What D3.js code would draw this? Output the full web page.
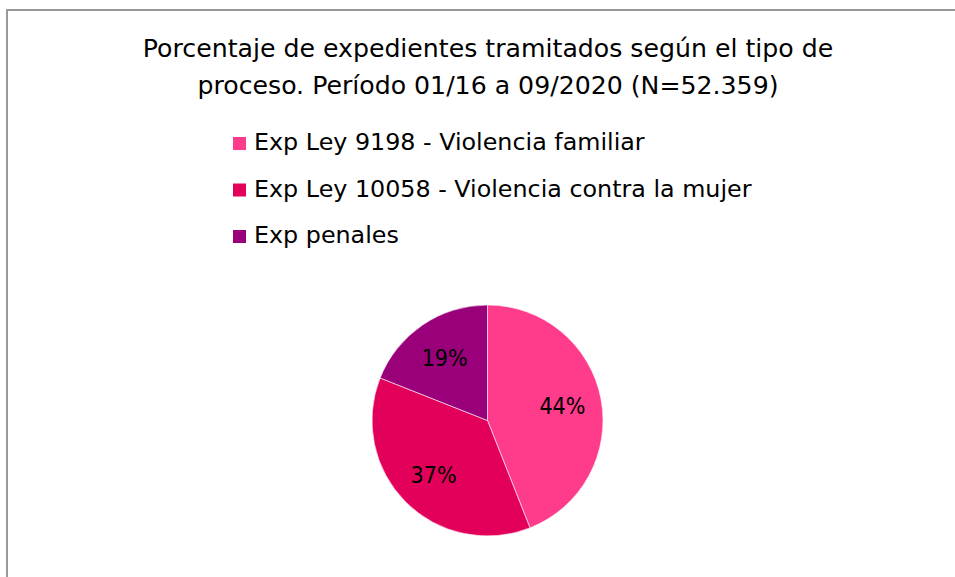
<!DOCTYPE html>
<html>
<head>
<meta charset="utf-8">
<script src="https://cdn.jsdelivr.net/npm/d3@7"></script>
<style>
  body { margin: 0; background: #fff; }
  text { font-family: "DejaVu Sans", sans-serif; }
  text.pct { font-stretch: condensed; }
</style>
</head>
<body>
<svg id="chart"></svg>
<script>
const titleLines = [
  "Porcentaje de expedientes tramitados según el tipo de",
  "proceso. Período 01/16 a 09/2020 (N=52.359)"
];
const categories = [
  "Exp Ley 9198 - Violencia familiar",
  "Exp Ley 10058 - Violencia contra la mujer",
  "Exp penales"
];
const percentages = [44, 37, 19];
const colors = ["#ff3b8c", "#e2005a", "#9a0079"];

function init() {
  const width = 955,
    height = 577;

  const svg = d3.select("#chart").attr("width", width).attr("height", height);

  // chart frame (only left and top edges visible in the crop)
  svg
    .append("rect")
    .attr("x", 7)
    .attr("y", 10)
    .attr("width", 1100)
    .attr("height", 800)
    .attr("fill", "#fff")
    .attr("stroke", "#999")
    .attr("stroke-width", 2);

  svg
    .selectAll("text.title")
    .data(titleLines)
    .join("text")
    .attr("class", "title")
    .attr("x", 488)
    .attr("y", (d, i) => 57 + i * 37)
    .attr("text-anchor", "middle")
    .style("font-size", "25.2px")
    .attr("fill", "#000")
    .text((d) => d);

  const color = d3.scaleOrdinal().domain(categories).range(colors);

  const legend = svg
    .selectAll("g.legend")
    .data(categories)
    .join("g")
    .attr("class", "legend")
    .attr("transform", (d, i) => `translate(233, ${150 + i * 46.5})`);

  legend
    .append("rect")
    .attr("x", 0)
    .attr("y", -13)
    .attr("width", 13)
    .attr("height", 13)
    .attr("fill", (d) => color(d));

  legend
    .append("text")
    .attr("x", 21)
    .attr("y", 0)
    .style("font-size", "23.8px")
    .attr("fill", "#000")
    .text((d) => d);

  const radius = 115.5;
  const g = svg.append("g").attr("transform", "translate(487.5, 420.5)");

  const pie = d3.pie().sort(null).value((d) => d[1]);
  const data_ready = pie(categories.map((c, i) => [c, percentages[i]]));

  const arcGenerator = d3.arc().innerRadius(0).outerRadius(radius);
  const labelArc = d3.arc().innerRadius(radius * 0.66).outerRadius(radius * 0.66);

  g.selectAll("path")
    .data(data_ready)
    .join("path")
    .attr("d", arcGenerator)
    .attr("fill", (d) => color(d.data[0]))
    .attr("stroke", "#fff")
    .style("stroke-width", "0.6px");

  g.selectAll("text")
    .data(data_ready)
    .join("text")
    .attr("class", "pct")
    .text((d) => d.data[1] + "%")
    .attr("transform", (d) => `translate(${labelArc.centroid(d)})`)
    .attr("dy", "0.36em")
    .style("text-anchor", "middle")
    .style("font-size", "23px")
    .attr("fill", "#000");
}

init();
</script>
</body>
</html>
